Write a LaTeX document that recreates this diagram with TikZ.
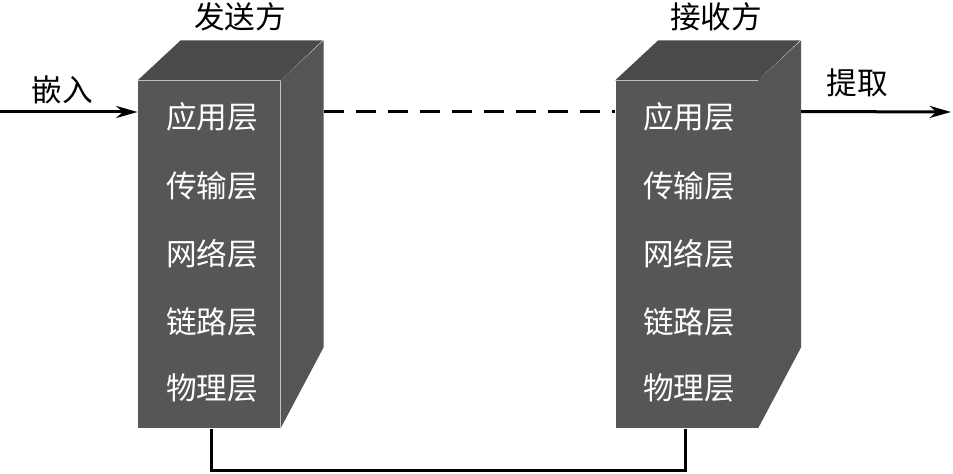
\documentclass[tikz,border=0pt]{standalone}
\usepackage{fontspec}
\newfontfamily\cjk{Noto Sans CJK SC}
\usetikzlibrary{arrows.meta}
\definecolor{boxfront}{RGB}{86,86,86}
\definecolor{boxside}{RGB}{85,85,85}
\definecolor{boxtop}{RGB}{74,74,74}
\tikzset{every picture/.style={line width=0.75pt}}
\tikzset{
  face/.style={fill=boxfront, draw=none, inner sep=0pt, minimum width=106.5pt, minimum height=260.25pt},
  layer/.style={text=white, font=\cjk\fontsize{23}{26}\selectfont},
  title/.style={font=\cjk\fontsize{23}{26}\selectfont},
  link/.style={line width=2.25pt},
  flow/.style={line width=2.25pt, -{Stealth[length=16pt, width=9pt, inset=5pt]}}
}

\begin{document}
\begin{tikzpicture}[x=0.75pt,y=0.75pt,yscale=-1,xscale=1]
\useasboundingbox (0,0) rectangle (953,474);

% Sender box
\node (send) [face] at (209,254.5) {};
\fill [boxtop] (send.north west) -- ++(43,-40) -- ++(142,0) -- (send.north east) -- cycle;
\fill [boxside] (send.north east) -- ++(43,-40) -- ++(0,307) -- (send.south east) -- cycle;
% Receiver box
\node (recv) [face] at (686.5,254.5) {};
\fill [boxtop] (recv.north west) -- ++(43,-40) -- ++(142,0) -- (recv.north east) -- cycle;
\fill [boxside] (recv.north east) -- ++(43,-40) -- ++(0,307) -- (recv.south east) -- cycle;

% Layer names
\foreach \txt/\y [count=\i] in {应用层/117, 传输层/186, 网络层/254, 链路层/322, 物理层/388}{
  \node (s\i) [layer] at (212,\y) {\txt};
  \node (r\i) [layer] at (689,\y) {\txt};
}

% Titles
\node (sendname) [title] at (240,17) {发送方};
\node (recvname) [title] at (716,17) {接收方};
\node (embed) [title] at (62,90) {嵌入};
\node (extract) [title] at (857,83) {提取};

% Connectors
\coordinate (in) at (0,112);
\coordinate (out) at (951,112);
\path (send.north east) ++(43,31) coordinate (sback);
\path (recv.north east) ++(43,31) coordinate (rback);
\draw [flow] (in) -- (in -| send.west);
\draw [link, dash pattern=on 15pt off 9pt] (sback) -- (sback -| recv.west);
\draw [flow] (rback) -- (out);
\draw [link] ([xshift=2pt]send.south) -- ++(0,42) -| ([xshift=-1pt]recv.south);

\end{tikzpicture}
\end{document}
